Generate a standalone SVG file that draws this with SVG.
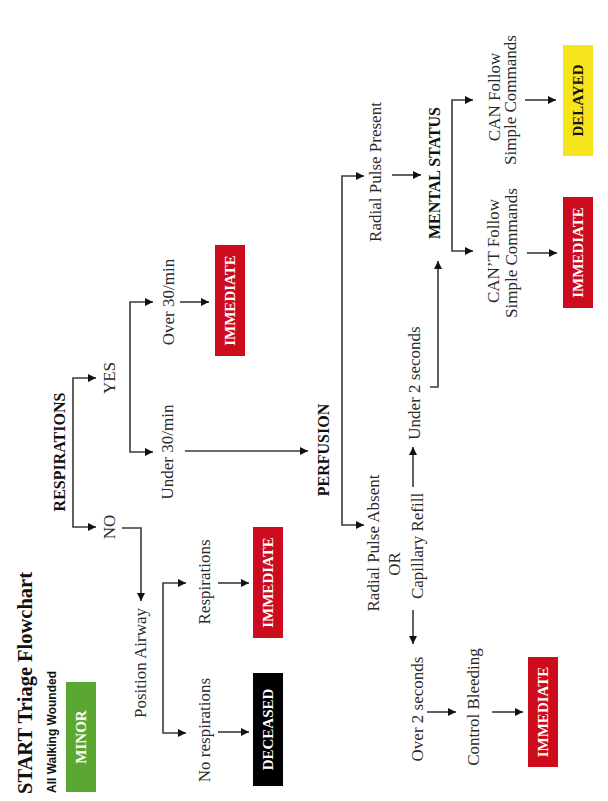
<svg xmlns="http://www.w3.org/2000/svg" width="608" height="801" viewBox="0 0 608 801">
<defs>
<style>
text{font-family:"Liberation Serif","Times New Roman",serif;text-anchor:middle;dominant-baseline:central}
.lbl{font-size:17px;fill:#2a2a2a}
.hd{font-size:16px;font-weight:bold;fill:#111}
.box{font-size:15px;font-weight:bold;fill:#fff}
.title{font-size:22px;font-weight:bold;fill:#111}
.sub{font-family:"Liberation Sans",Arial,sans-serif;font-size:12px;font-weight:bold;fill:#111}
.red{fill:#cc0c1c}
.con path{fill:none;stroke:#3a3a3a;stroke-width:1.6}
</style>
<marker id="ah" viewBox="0 0 10 10" refX="10" refY="5" markerWidth="9" markerHeight="8" markerUnits="userSpaceOnUse" orient="auto">
<path d="M0,0 L10,5 L0,10 Z" fill="#111"/>
</marker>
</defs>
<rect width="608" height="801" fill="#fff"/>

<g id="title">
<text class="title" transform="translate(24 683) rotate(-90)" textLength="222" lengthAdjust="spacingAndGlyphs">START Triage Flowchart</text>
</g>
<g id="walking">
<text class="sub" transform="translate(52 732) rotate(-90)">All Walking Wounded</text>
</g>
<g id="minor">
<rect x="66" y="682" width="30" height="110" fill="#5aa832"/>
<text class="box" font-size="16" transform="translate(81 737) rotate(-90)">MINOR</text>
</g>
<g id="respirations"><text class="hd" transform="translate(59 452) rotate(-90)">RESPIRATIONS</text></g>
<g id="yes"><text class="lbl" transform="translate(109 378) rotate(-90)">YES</text></g>
<g id="no"><text class="lbl" transform="translate(109 527) rotate(-90)">NO</text></g>
<g id="position-airway"><text class="lbl" transform="translate(140 663) rotate(-90)">Position Airway</text></g>
<g id="resp-yes"><text class="lbl" transform="translate(204 582) rotate(-90)">Respirations</text></g>
<g id="resp-no"><text class="lbl" transform="translate(204 730) rotate(-90)">No respirations</text></g>
<g id="immediate-2">
<rect class="red" x="253" y="527" width="30" height="111"/>
<text class="box" transform="translate(268 582.5) rotate(-90)">IMMEDIATE</text>
</g>
<g id="deceased">
<rect x="253" y="673" width="30" height="113" fill="#000"/>
<text class="box" transform="translate(268 729.5) rotate(-90)">DECEASED</text>
</g>
<g id="over30"><text class="lbl" transform="translate(168 302) rotate(-90)">Over 30/min</text></g>
<g id="under30"><text class="lbl" transform="translate(167 452) rotate(-90)">Under 30/min</text></g>
<g id="immediate-1">
<rect class="red" x="215" y="245" width="30" height="111"/>
<text class="box" transform="translate(230 300.5) rotate(-90)">IMMEDIATE</text>
</g>
<g id="perfusion"><text class="hd" transform="translate(323 450) rotate(-90)">PERFUSION</text></g>
<g id="radial-absent">
<text class="lbl" transform="translate(373 543) rotate(-90)">Radial Pulse Absent</text>
<text class="lbl" transform="translate(394 564) rotate(-90)">OR</text>
<text class="lbl" transform="translate(417 546) rotate(-90)">Capillary Refill</text>
</g>
<g id="under2"><text class="lbl" transform="translate(414 383) rotate(-90)">Under 2 seconds</text></g>
<g id="over2"><text class="lbl" transform="translate(417 709) rotate(-90)">Over 2 seconds</text></g>
<g id="control-bleeding"><text class="lbl" transform="translate(473 707) rotate(-90)">Control Bleeding</text></g>
<g id="immediate-3">
<rect class="red" x="528" y="657" width="30" height="110"/>
<text class="box" transform="translate(543 712) rotate(-90)">IMMEDIATE</text>
</g>
<g id="radial-present"><text class="lbl" transform="translate(375 172) rotate(-90)">Radial Pulse Present</text></g>
<g id="mental-status"><text class="hd" transform="translate(434 173) rotate(-90)">MENTAL STATUS</text></g>
<g id="can-follow">
<text class="lbl" transform="translate(494 97) rotate(-90)">CAN Follow</text>
<text class="lbl" transform="translate(510 100) rotate(-90)">Simple Commands</text>
</g>
<g id="cant-follow">
<text class="lbl" transform="translate(493 251) rotate(-90)">CAN’T Follow</text>
<text class="lbl" transform="translate(511 253) rotate(-90)">Simple Commands</text>
</g>
<g id="delayed">
<rect x="563" y="45" width="30" height="111" fill="#f6e51c"/>
<text class="box" style="fill:#111" transform="translate(578 100.5) rotate(-90)">DELAYED</text>
</g>
<g id="immediate-4">
<rect class="red" x="563" y="197" width="30" height="111"/>
<text class="box" transform="translate(578 252.5) rotate(-90)">IMMEDIATE</text>
</g>

<g id="connectors" class="con">
<path d="M73,452 V378 H96" marker-end="url(#ah)"/>
<path d="M73,452 V527 H96" marker-end="url(#ah)"/>
<path d="M122,528 H141 V601" marker-end="url(#ah)"/>
<path d="M163,658 V583 H186" marker-end="url(#ah)"/>
<path d="M163,658 V733 H186" marker-end="url(#ah)"/>
<path d="M218,583 H249" marker-end="url(#ah)"/>
<path d="M218,732 H249" marker-end="url(#ah)"/>
<path d="M130,377 V302 H153" marker-end="url(#ah)"/>
<path d="M130,377 V452 H153" marker-end="url(#ah)"/>
<path d="M180,302 H209" marker-end="url(#ah)"/>
<path d="M185,451 H308" marker-end="url(#ah)"/>
<path d="M342,350 V176 H364" marker-end="url(#ah)"/>
<path d="M342,350 V525 H364" marker-end="url(#ah)"/>
<path d="M413,487 V447" marker-end="url(#ah)"/>
<path d="M413,610 V644" marker-end="url(#ah)"/>
<path d="M430,387 H438 V261" marker-end="url(#ah)"/>
<path d="M392,175 H421" marker-end="url(#ah)"/>
<path d="M452,175 V100 H473" marker-end="url(#ah)"/>
<path d="M452,175 V251 H473" marker-end="url(#ah)"/>
<path d="M525,100 H556" marker-end="url(#ah)"/>
<path d="M527,253 H557" marker-end="url(#ah)"/>
<path d="M427,712 H456" marker-end="url(#ah)"/>
<path d="M492,712 H523" marker-end="url(#ah)"/>
</g>
</svg>
